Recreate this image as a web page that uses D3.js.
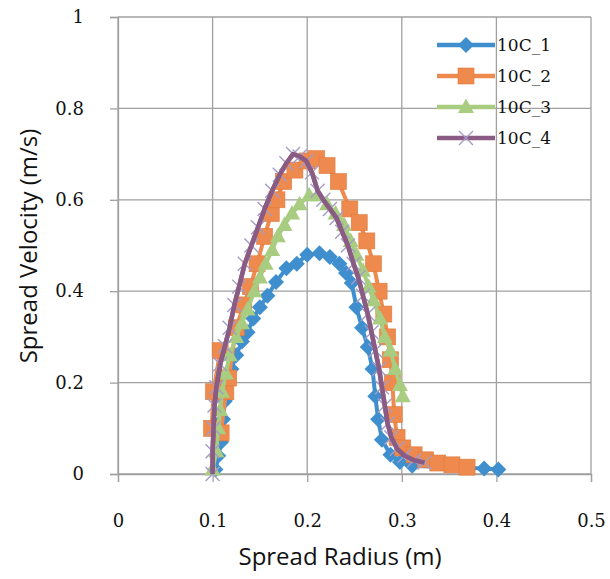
<!DOCTYPE html>
<html>
<head>
<meta charset="utf-8">
<title>Spread Velocity vs Spread Radius</title>
<script src="https://d3js.org/d3.v7.min.js"></script>
<style>
  body { margin: 0; background: #fff; }
</style>
</head>
<body>
<div id="chart"></div>
<script>
// series values (radius in m, velocity in m/s)
var names = ["10C_1", "10C_2", "10C_3", "10C_4"];

var r1 = [0.103,0.106,0.109,0.111,0.113,0.116,0.120,0.125,0.131,0.137,0.143,0.150,0.158,0.167,0.178,0.189,0.200,0.213,0.224,0.234,0.241,0.247,0.252,0.258,0.264,0.269,0.272,0.275,0.279,0.288,0.298,0.311,0.387,0.402];
var v1 = [0.010,0.040,0.070,0.120,0.160,0.200,0.230,0.260,0.290,0.310,0.340,0.365,0.390,0.420,0.450,0.460,0.480,0.483,0.475,0.460,0.440,0.418,0.365,0.320,0.278,0.230,0.170,0.120,0.075,0.042,0.026,0.018,0.012,0.010];

var r2 = [0.099,0.101,0.108,0.109,0.114,0.117,0.125,0.133,0.140,0.147,0.155,0.162,0.168,0.175,0.187,0.200,0.210,0.221,0.233,0.245,0.255,0.263,0.270,0.276,0.281,0.285,0.288,0.290,0.292,0.295,0.301,0.313,0.325,0.338,0.353,0.369];
var v2 = [0.100,0.180,0.270,0.090,0.180,0.210,0.320,0.370,0.410,0.460,0.520,0.570,0.600,0.640,0.665,0.685,0.690,0.675,0.640,0.580,0.550,0.510,0.460,0.400,0.350,0.300,0.250,0.200,0.130,0.080,0.057,0.042,0.031,0.024,0.020,0.015];

var r3 = [0.100,0.104,0.106,0.108,0.110,0.114,0.118,0.125,0.131,0.137,0.144,0.150,0.156,0.163,0.169,0.176,0.184,0.192,0.202,0.211,0.221,0.230,0.239,0.246,0.252,0.259,0.265,0.270,0.277,0.282,0.288,0.293,0.298,0.301];
var v3 = [0.010,0.050,0.100,0.140,0.180,0.220,0.260,0.300,0.330,0.360,0.400,0.430,0.460,0.490,0.520,0.545,0.570,0.590,0.610,0.610,0.590,0.570,0.545,0.510,0.480,0.445,0.410,0.380,0.340,0.300,0.270,0.230,0.195,0.170];

var r4 = [0.100,0.100,0.101,0.102,0.104,0.108,0.113,0.118,0.123,0.128,0.134,0.141,0.148,0.155,0.163,0.171,0.178,0.185,0.192,0.199,0.205,0.211,0.217,0.224,0.231,0.237,0.243,0.249,0.254,0.259,0.264,0.268,0.272,0.276,0.279,0.282,0.285,0.289,0.295,0.303,0.313,0.324];
var v4 = [0.000,0.050,0.100,0.150,0.190,0.240,0.280,0.320,0.370,0.410,0.460,0.500,0.540,0.580,0.620,0.655,0.680,0.700,0.695,0.685,0.660,0.620,0.600,0.580,0.560,0.530,0.500,0.460,0.430,0.390,0.350,0.310,0.270,0.230,0.190,0.150,0.110,0.080,0.055,0.040,0.030,0.025];

var xTicks = [0, 0.1, 0.2, 0.3, 0.4, 0.5];
var yTicks = [0, 0.2, 0.4, 0.6, 0.8, 1];

var lineColors = ["#3f8fcf", "#ee8a4e", "#a8cc80", "#8a5c84"];
var markColors = ["#3f8fcf", "#ee8a4e", "#a8cc80", "#a49cc6"];
var shapes = ["diamond", "square", "triangle", "cross"];

var W = 610, H = 579;
var margin = { top: 17, right: 19, bottom: 105, left: 118 };
var width = W - margin.left - margin.right,
    height = H - margin.top - margin.bottom;

var svg = d3.select("#chart").append("svg")
    .attr("width", W)
    .attr("height", H);
var g = svg.append("g")
    .attr("transform", "translate(" + margin.left + "," + margin.top + ")");

var x = d3.scaleLinear().domain([0, 0.5]).range([0, width]);
var y = d3.scaleLinear().domain([0, 1]).range([height, 0]);

// gridlines
g.selectAll(".vgrid").data(xTicks).enter().append("line")
    .attr("x1", d => x(d)).attr("x2", d => x(d))
    .attr("y1", 0).attr("y2", height)
    .attr("stroke", "#a0a0a0").attr("stroke-width", 1.3);
g.selectAll(".hgrid").data(yTicks).enter().append("line")
    .attr("x1", 0).attr("x2", width)
    .attr("y1", d => y(d)).attr("y2", d => y(d))
    .attr("stroke", "#a0a0a0").attr("stroke-width", 1.3);

// axes
var tickFont = "'DejaVu Serif', serif";
var xAxis = g.append("g")
    .attr("transform", "translate(0," + height + ")")
    .call(d3.axisBottom(x).tickValues(xTicks).tickSize(8).tickPadding(32).tickFormat(d3.format("")));
var yAxis = g.append("g")
    .call(d3.axisLeft(y).tickValues(yTicks).tickSize(8).tickPadding(26).tickFormat(d3.format("")));
[xAxis, yAxis].forEach(function (a) {
    a.select(".domain").attr("stroke", "#a0a0a0").attr("stroke-width", 1.3);
    a.selectAll(".tick line").attr("stroke", "#a0a0a0").attr("stroke-width", 1.3);
    a.selectAll(".tick text")
        .style("font-family", tickFont).style("font-size", "18px").attr("fill", "#111");
});

// marker drawing
function drawMarker(sel, shape, color) {
    if (shape === "diamond") {
        sel.append("path").attr("d", "M0,-8L8,0L0,8L-8,0Z").attr("fill", color);
    } else if (shape === "square") {
        sel.append("rect").attr("x", -8).attr("y", -8).attr("width", 16).attr("height", 16)
            .attr("fill", color).attr("stroke", "#e07a3c").attr("stroke-width", 0.6);
    } else if (shape === "triangle") {
        sel.append("path").attr("d", "M0,-8.5L8,6L-8,6Z").attr("fill", color);
    } else {
        sel.append("path").attr("d", "M-7,-7L7,7M-7,7L7,-7")
            .attr("stroke", color).attr("stroke-width", 1.4).attr("fill", "none");
    }
}

var allR = [r1, r2, r3, r4], allV = [v1, v2, v3, v4];
var line = d3.line().x(d => x(d[0])).y(d => y(d[1]));

allR.forEach(function (rs, i) {
    var pts = rs.map((r, j) => [r, allV[i][j]]);
    var sg = g.append("g");
    sg.append("path").datum(pts)
        .attr("d", line)
        .attr("fill", "none")
        .attr("stroke", lineColors[i])
        .attr("stroke-width", i === 3 ? 4.5 : 4)
        .attr("stroke-linejoin", "round");
    sg.selectAll(".m").data(pts).enter().append("g")
        .attr("transform", d => "translate(" + x(d[0]) + "," + y(d[1]) + ")")
        .each(function () { drawMarker(d3.select(this), shapes[i], markColors[i]); });
    if (i === 3) {
        // purple line sits over its light markers
        sg.append("path").datum(pts)
            .attr("d", line).attr("fill", "none")
            .attr("stroke", lineColors[i]).attr("stroke-width", 4.5)
            .attr("stroke-linejoin", "round");
    }
});

// legend
var legend = svg.append("g").attr("transform", "translate(437,45)");
names.forEach(function (n, i) {
    var lg = legend.append("g").attr("transform", "translate(0," + (i * 31) + ")");
    lg.append("line").attr("x1", 0).attr("x2", 58).attr("y1", 0).attr("y2", 0)
        .attr("stroke", lineColors[i]).attr("stroke-width", 4.5);
    var mk = lg.append("g").attr("transform", "translate(29,0)");
    drawMarker(mk, shapes[i], markColors[i]);
    lg.append("text").attr("x", 60).attr("y", 6)
        .style("font-family", tickFont).style("font-size", "17px")
        .attr("fill", "#111").text(n);
});

// axis titles
svg.append("text")
    .attr("x", 340).attr("y", 565)
    .attr("text-anchor", "middle")
    .style("font-family", "'Open Sans', sans-serif")
    .style("font-size", "24px")
    .attr("fill", "#111")
    .text("Spread Radius (m)");
svg.append("text")
    .attr("transform", "translate(37,246) rotate(-90)")
    .attr("text-anchor", "middle")
    .style("font-family", "'Open Sans', sans-serif")
    .style("font-size", "24px")
    .attr("fill", "#111")
    .text("Spread Velocity (m/s)");
</script>
</body>
</html>
